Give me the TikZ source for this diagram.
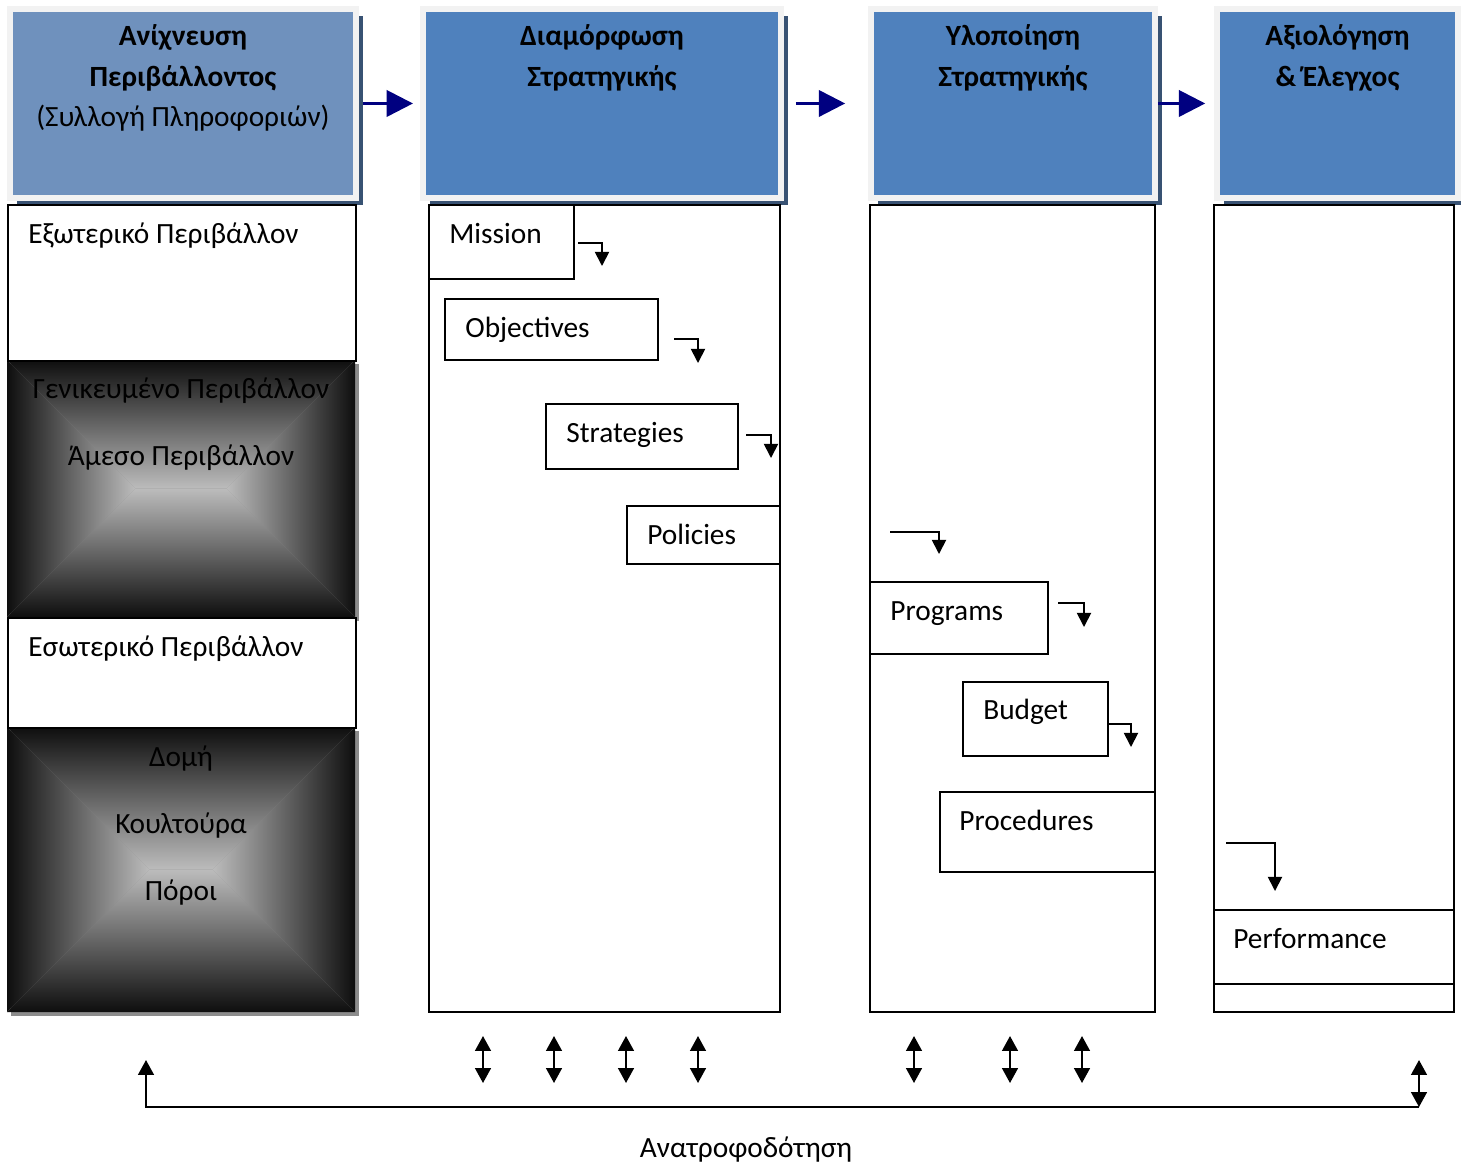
\documentclass[tikz,border=0pt]{standalone}
\usepackage{fontspec}
\setmainfont{Carlito}
\usepackage{xcolor}
\usepackage{tikz}
\usetikzlibrary{arrows.meta}
\usetikzlibrary{positioning}
\usetikzlibrary{shadows}

\definecolor{scanblue}{RGB}{111,145,189}
\definecolor{stepblue}{RGB}{79,129,189}
\definecolor{hdrframe}{RGB}{242,242,242}
\definecolor{hdrshade}{RGB}{56,82,115}
\definecolor{flownavy}{RGB}{0,0,128}
\definecolor{edgegray}{RGB}{14,14,14}
\definecolor{coregray}{RGB}{188,188,188}
\definecolor{boxshade}{RGB}{140,140,140}

% dark rim, light middle: two trapezoids and two triangles
\newcommand{\bevelfill}[4]{%
	\pgfmathsetmacro{\bevd}{min(#3-#1,#4-#2)/2}
	\coordinate (bevl) at ({#1+\bevd},{#2+\bevd});
	\coordinate (bevr) at ({#3-\bevd},{#4-\bevd});
	\begin{scope}
		\clip (#1,#2) -- (#3,#2) -- (bevr) -- (bevl) -- cycle;
		\shade[top color=edgegray,bottom color=coregray] (#1,#2) rectangle (#3,{#2+\bevd});
	\end{scope}
	\begin{scope}
		\clip (#1,#4) -- (#3,#4) -- (bevr) -- (bevl) -- cycle;
		\shade[top color=coregray,bottom color=edgegray] (#1,{#4-\bevd}) rectangle (#3,#4);
	\end{scope}
	\begin{scope}
		\clip (#1,#2) -- (#1,#4) -- (bevl) -- cycle;
		\shade[left color=edgegray,right color=coregray] (#1,#2) rectangle ({#1+\bevd},#4);
	\end{scope}
	\begin{scope}
		\clip (#3,#2) -- (#3,#4) -- (bevr) -- cycle;
		\shade[left color=coregray,right color=edgegray] ({#3-\bevd},#2) rectangle (#3,#4);
	\end{scope}
}

\begin{document}
\begin{tikzpicture}[x=0.02cm,y=-0.02cm,font=\fontsize{16.7}{23}\selectfont]
				\useasboundingbox (0,0) rectangle (1461,1164);
				
				\begin{scope}[every node/.style={rectangle,draw=hdrframe,line width=3.4pt,anchor=north west,inner sep=0pt,minimum height=3.78cm,
					drop shadow={shadow xshift=4pt,shadow yshift=-4pt,fill=hdrshade,opacity=1}}]
					\node[fill=scanblue,minimum width=6.92cm] (scan) at (7,6) {};
					\node[fill=stepblue,minimum width=7.16cm] (form) at (420,6) {};
					\node[fill=stepblue,minimum width=5.68cm] (impl) at (868,6) {};
					\node[fill=stepblue,minimum width=4.82cm] (eval) at (1214,6) {};
				\end{scope}
				
				\begin{scope}[every node/.style={font=\fontsize{16.7}{23}\selectfont\bfseries,align=center,inner sep=0pt}]
					\node (scantxt) [below=0.37cm of scan.north] {Ανίχνευση\\Περιβάλλοντος\\\mdseries(Συλλογή Πληροφοριών)};
					\node (formtxt) [below=0.37cm of form.north] {Διαμόρφωση\\Στρατηγικής};
					\node (impltxt) [below=0.37cm of impl.north] {Υλοποίηση\\Στρατηγικής};
					\node (evaltxt) [below=0.37cm of eval.north] {Αξιολόγηση\\\& Έλεγχος};
				\end{scope}
				
				\begin{scope}[>={Triangle[length=15pt,width=15pt]},
					every edge/.style={draw=flownavy,line width=1.6pt}]
					\path [->] (scan.east) edge [shorten <=2.3pt,shorten >=4pt] (form.west);
					\path [->] (form.east) edge [shorten <=6.8pt,shorten >=13pt] (impl.west);
					\path [->] (impl.east) edge [shorten >=5pt] (eval.west);
				\end{scope}
				
				% left column
				\fill[boxshade] (11,364) rectangle (359,621);
				\fill[boxshade] (11,731) rectangle (359,1016);
				\bevelfill{7}{360}{355}{617}
				\bevelfill{7}{727}{355}{1012}
				
				\begin{scope}[every node/.style={rectangle,draw,line width=1.1pt,anchor=north west,inner sep=0pt,fill=white}]
					\node[minimum width=6.96cm,minimum height=3.12cm] (ext) at (7,204) {};
					\node[minimum width=6.96cm,minimum height=2.2cm] (int) at (7,617) {};
					
					\node[fill=none,minimum width=7.02cm,minimum height=16.14cm] (formcol) at (428,204) {};
					\node[fill=none,minimum width=5.7cm,minimum height=16.14cm] (implcol) at (869,204) {};
					\node[fill=none,minimum width=4.8cm,minimum height=16.14cm] (evalcol) at (1213,204) {};
					
					\node[minimum width=2.9cm,minimum height=1.48cm] (mission) at (428,204) {};
					\node[minimum width=4.26cm,minimum height=1.22cm] (objectives) at (444,298) {};
					\node[minimum width=3.84cm,minimum height=1.3cm] (strategies) at (545,403) {};
					\node[minimum width=3.06cm,minimum height=1.16cm] (policies) at (626,505) {};
					\node[minimum width=3.56cm,minimum height=1.44cm] (programs) at (869,581) {};
					\node[minimum width=2.9cm,minimum height=1.48cm] (budget) at (962,681) {};
					\node[minimum width=4.3cm,minimum height=1.6cm] (procedures) at (939,791) {};
					\node[minimum width=4.8cm,minimum height=1.48cm] (performance) at (1213,909) {};
				\end{scope}
				
				\begin{scope}[every node/.style={anchor=base west,inner sep=0pt}]
					\node (exttxt) at (28,243) {Εξωτερικό Περιβάλλον};
					\node (inttxt) at (28,656) {Εσωτερικό Περιβάλλον};
					\node (missiontxt) at (449,243) {Mission};
					\node (objectivestxt) at (465,337) {Objectives};
					\node (strategiestxt) at (566,442) {Strategies};
					\node (policiestxt) at (647,544) {Policies};
					\node (programstxt) at (890,620) {Programs};
					\node (budgettxt) at (983,719) {Budget};
					\node (procedurestxt) at (959,830) {Procedures};
					\node (performancetxt) at (1233,948) {Performance};
				\end{scope}
				
				\begin{scope}[every node/.style={anchor=base,inner sep=0pt}]
					\node (general) at (181,398) {Γενικευμένο Περιβάλλον};
					\node (direct) at (181,465) {Άμεσο Περιβάλλον};
					\node (structure) at (181,766) {Δομή};
					\node (culture) at (181,833) {Κουλτούρα};
					\node (resources) at (181,900) {Πόροι};
					\node (feedback) at (746,1157) {Ανατροφοδότηση};
				\end{scope}
				
				% small step arrows
				\coordinate (ms) at (578,243);  \coordinate (me) at (602,266);
				\coordinate (os) at (674,339);  \coordinate (oe) at (698,363);
				\coordinate (ss) at (746,435);  \coordinate (se) at (771,458);
				\coordinate (is) at (890,532);  \coordinate (ie) at (939,554);
				\coordinate (ps) at (1058,603); \coordinate (pe) at (1084,627);
				\coordinate (bs) at (1107,724); \coordinate (be) at (1131,747);
				\coordinate (es) at (1226,843); \coordinate (ee) at (1275,891);
				
				\begin{scope}[>={Triangle[length=8pt,width=8pt]},line width=1pt]
					\draw [->] (ms) -| (me);
					\draw [->] (os) -| (oe);
					\draw [->] (ss) -| (se);
					\draw [->] (is) -| (ie);
					\draw [->] (ps) -| (pe);
					\draw [->] (bs) -| (be);
					\draw [->] (es) -| (ee);
				\end{scope}
				
				% feedback loop
				\coordinate (fbl) at (146,1060);
				\coordinate (fbr) at (1419,1060);
				\coordinate (fbc) at (1419,1107);
				\begin{scope}[>={Triangle[length=8.5pt,width=9pt]},line width=1.1pt]
					\foreach \x [count=\i] in {483,554,626,698,914,1010,1082}{
						\coordinate (up\i) at (\x,1036);
						\coordinate (dn\i) at (\x,1083);
						\draw [<->] (up\i) -- (dn\i);
					}
					\draw [->] (fbc) -| (fbl);
					\draw [<->] (fbr) -- (fbc);
				\end{scope}
\end{tikzpicture}
\end{document}
